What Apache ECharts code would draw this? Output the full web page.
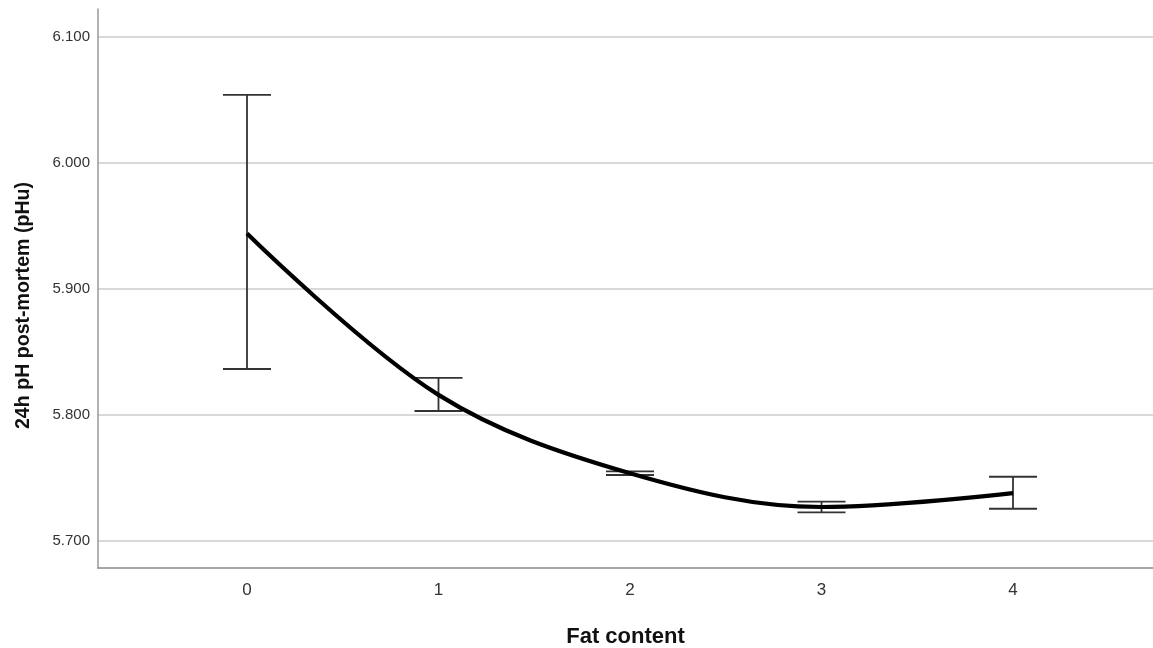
<!DOCTYPE html>
<html>
<head>
<meta charset="utf-8">
<script src="https://cdn.jsdelivr.net/npm/echarts@6/dist/echarts.min.js"></script>
<style>
  html, body { margin: 0; padding: 0; background: #fff; overflow: hidden; }
  #chart { width: 1153px; height: 648px; }
</style>
</head>
<body>
<div id="chart"></div>
<script>
// data
const fatLevels = [0, 1, 2, 3, 4];
const meanPh = [5.944, 5.816, 5.7538, 5.727, 5.738];
const upperPh = [6.054, 5.8294, 5.7552, 5.7312, 5.751];
const lowerPh = [5.8365, 5.8032, 5.7524, 5.7228, 5.7256];
const yTicks = [5.7, 5.8, 5.9, 6.0, 6.1];

const chart = echarts.init(document.getElementById("chart"));

const errData = fatLevels.map(function (x, i) {
    return [x, lowerPh[i], upperPh[i]];
});
const lineData = fatLevels.map(function (x, i) {
    return [x, meanPh[i]];
});

function renderErr(params, api) {
    const x = api.value(0);
    const lo = api.coord([x, api.value(1)]);
    const hi = api.coord([x, api.value(2)]);
    const half = 24;
    const st = { stroke: '#333', lineWidth: 1.8 };
    return {
        type: 'group',
        children: [
            { type: 'line', shape: { x1: lo[0], y1: lo[1], x2: hi[0], y2: hi[1] }, style: st },
            { type: 'line', shape: { x1: hi[0] - half, y1: hi[1], x2: hi[0] + half, y2: hi[1] }, style: st },
            { type: 'line', shape: { x1: lo[0] - half, y1: lo[1], x2: lo[0] + half, y2: lo[1] }, style: st }
        ]
    };
}

const option = {
    animation: false,
    backgroundColor: '#fff',
    grid: { left: 98, right: 0, top: 9, bottom: 80, outerBoundsMode: 'none', containLabel: false },
    xAxis: {
        type: 'value',
        min: -0.778,
        max: 4.731,
        name: 'Fat content',
        nameLocation: 'middle',
        nameGap: 58,
        nameTextStyle: { fontFamily: 'Liberation Sans', fontWeight: 'bold', fontSize: 22, color: '#111' },
        axisLine: { show: true, onZero: false, lineStyle: { color: '#888', width: 1.5 } },
        axisTick: { show: false, customValues: fatLevels },
        axisLabel: {
            customValues: fatLevels,
            fontFamily: 'Liberation Sans',
            fontSize: 17,
            color: '#333',
            margin: 14
        },
        splitLine: { show: false }
    },
    yAxis: {
        type: 'value',
        min: 5.6786,
        max: 6.1222,
        name: '24h pH post-mortem (pHu)',
        nameLocation: 'middle',
        nameGap: 64,
        nameTextStyle: { fontFamily: 'Liberation Sans', fontWeight: 'bold', fontSize: 19.6, color: '#111', padding: [0, 34, 0, 0] },
        axisLine: { show: true, onZero: false, lineStyle: { color: '#999', width: 1.5 } },
        axisTick: { show: false, customValues: yTicks },
        axisLabel: {
            customValues: yTicks,
            formatter: function (v) { return v.toFixed(3); },
            fontFamily: 'Liberation Sans',
            fontSize: 15,
            color: '#333',
            margin: 8
        },
        splitLine: { show: true, lineStyle: { color: '#cccccc', width: 1.5 } }
    },
    series: [
        {
            type: 'custom',
            name: 'error',
            data: errData,
            renderItem: renderErr,
            z: 2
        },
        {
            type: 'line',
            name: 'mean',
            data: lineData,
            smooth: 0.35,
            showSymbol: false,
            lineStyle: { color: '#000', width: 4.2 },
            z: 3
        }
    ]
};

chart.setOption(option);
</script>
</body>
</html>
